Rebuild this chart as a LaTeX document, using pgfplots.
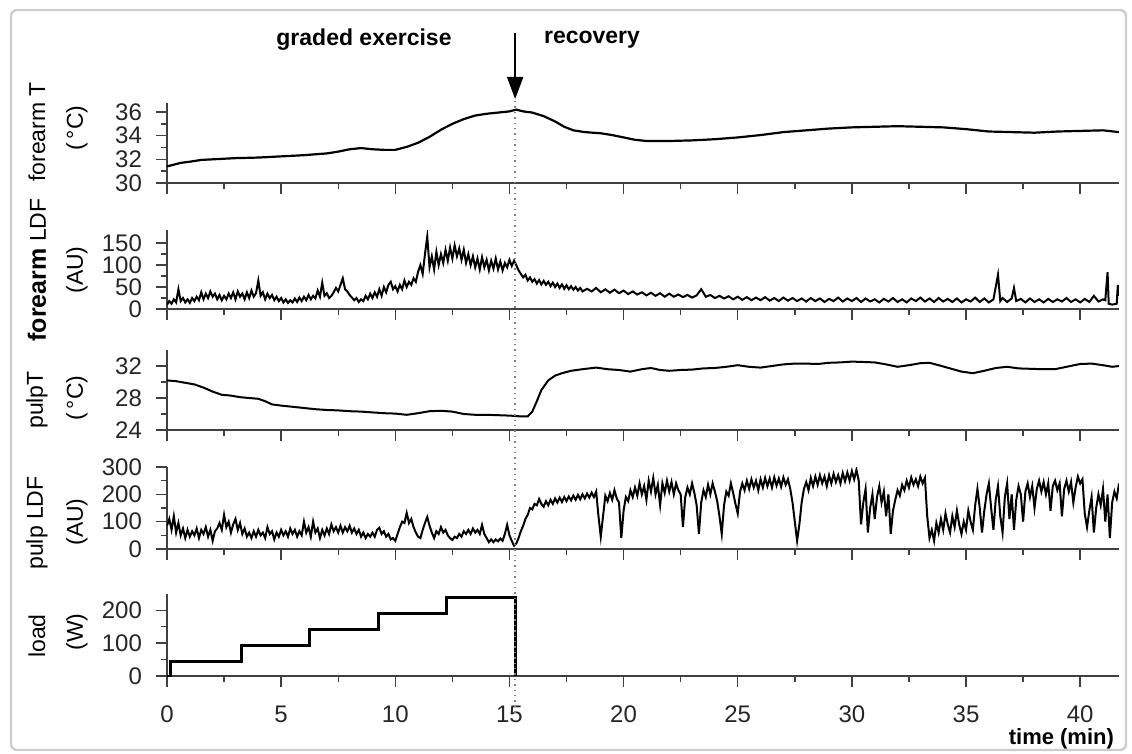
\documentclass[border=0pt]{standalone}
\usepackage{fontspec}
\setmainfont{Liberation Sans}
\usepackage{pgfplots}
\pgfplotsset{compat=1.18}
\usetikzlibrary{arrows.meta}

\pgfplotsset{
  panel/.style={
    scale only axis, width=476pt, anchor=south west,
    xmin=0, xmax=41.7,
    axis x line=bottom, axis y line=left,
    axis line style={-, line width=0.8pt, black!75},
    tick align=outside,
    xtick={0,5,...,40}, minor x tick num=1,
    minor y tick num=1,
    major tick length=5.5pt, minor tick length=3pt,
    tick style={line width=0.7pt, black!75},
    ticklabel style={font=\fontsize{12}{14}\selectfont, text=black!85},
    xticklabel style={yshift=-6pt},
    yticklabel style={xshift=-3.5pt},
    /pgf/number format/assume math mode=true,
  },
  nox/.style={xticklabels={}},
}

\begin{document}
\begin{tikzpicture}[x=0.5pt, y=-0.5pt]
\path[use as bounding box] (0,0) rectangle (1132,754);
\draw[gray!40, line width=1.2pt, rounded corners=3pt] (11,10) rectangle (1126,750);

% forearm T
\begin{axis}[panel, nox, at={(83.5pt,-91.5pt)}, height=40pt,
  ymin=30, ymax=36.76, ytick={30,32,34,36}]
\addplot[black, line width=1.1pt] coordinates {
(0,31.4) (0.3,31.55) (0.6,31.7) (1.0,31.8) (1.5,31.95) (2,32.0) (3,32.1) (4,32.15)
(5,32.25) (6,32.35) (7,32.5) (7.5,32.65) (8,32.85) (8.5,32.95) (9,32.85) (9.5,32.8)
(10,32.8) (10.5,33.05) (11,33.4) (11.5,33.9) (12,34.5) (12.5,35.0) (13,35.4) (13.5,35.7)
(14,35.85) (14.5,35.95) (15,36.05) (15.3,36.2) (15.6,36.05) (16,35.95) (16.5,35.65)
(17,35.2) (17.4,34.75) (17.8,34.45) (18.3,34.3) (19,34.2) (19.5,34.05) (20,33.85) (20.5,33.65)
(21,33.55) (22,33.55) (23,33.6) (24,33.7) (25,33.85) (26,34.05) (27,34.3) (28,34.45)
(29,34.6) (30,34.7) (31,34.75) (32,34.8) (33,34.75) (34,34.7) (35,34.55) (36,34.35)
(37,34.3) (38,34.25) (39,34.35) (40,34.4) (41,34.45) (41.7,34.3)
};
\end{axis}

% forearm LDF
\begin{axis}[panel, nox, at={(83.5pt,-154.5pt)}, height=39.5pt,
  ymin=0, ymax=180, ytick={0,50,100,150}]
\addplot[black, line width=1pt] coordinates {
(0.0,10) (0.1,18) (0.2,12) (0.3,22) (0.4,15) (0.5,45) (0.6,18) (0.7,25) (0.8,15) (0.9,22)
(1.0,14) (1.1,25) (1.2,18) (1.3,28) (1.4,20) (1.5,38) (1.6,22) (1.7,35) (1.8,25) (1.9,40)
(2.0,28) (2.1,35) (2.2,22) (2.3,32) (2.4,20) (2.5,30) (2.6,22) (2.7,35) (2.8,25) (2.9,38)
(3.0,22) (3.1,40) (3.2,28) (3.3,35) (3.4,22) (3.5,38) (3.6,25) (3.7,42) (3.8,28) (3.9,36)
(4.0,65) (4.1,30) (4.2,38) (4.3,22) (4.4,35) (4.5,25) (4.6,32) (4.7,20) (4.8,28) (4.9,18)
(5.0,25) (5.1,15) (5.2,22) (5.3,14) (5.4,20) (5.5,15) (5.6,24) (5.7,16) (5.8,26) (5.9,18)
(6.0,28) (6.1,20) (6.2,32) (6.3,22) (6.4,30) (6.5,24) (6.6,42) (6.7,28) (6.8,60) (6.9,30)
(7.0,36) (7.1,25) (7.2,30) (7.3,38) (7.4,48) (7.5,40) (7.6,55) (7.7,70) (7.8,45) (7.9,40)
(8.0,32) (8.1,26) (8.2,20) (8.3,25) (8.4,16) (8.5,22) (8.6,18) (8.7,30) (8.8,22) (8.9,35)
(9.0,25) (9.1,38) (9.2,28) (9.3,45) (9.4,30) (9.5,50) (9.6,38) (9.7,55) (9.8,62) (9.9,45)
(10.0,52) (10.1,40) (10.2,55) (10.3,45) (10.4,65) (10.5,50) (10.6,62) (10.7,55) (10.8,70) (10.9,62)
(11.0,85) (11.1,100) (11.2,80) (11.3,125) (11.4,165) (11.5,95) (11.6,120) (11.7,90) (11.8,130) (11.9,100)
(12.0,125) (12.1,105) (12.2,135) (12.3,110) (12.4,140) (12.5,115) (12.6,145) (12.7,120) (12.8,138) (12.9,112)
(13.0,135) (13.1,105) (13.2,125) (13.3,100) (13.4,120) (13.5,95) (13.6,115) (13.7,90) (13.8,118) (13.9,95)
(14.0,112) (14.1,88) (14.2,110) (14.3,92) (14.4,115) (14.5,90) (14.6,108) (14.7,88) (14.8,105) (14.9,95)
(15.0,112) (15.1,98) (15.2,110) (15.3,100) (15.4,88) (15.5,80) (15.6,72) (15.7,78) (15.8,65) (15.9,72)
(16.0,62) (16.1,68) (16.2,58) (16.3,66) (16.4,56) (16.5,64) (16.6,55) (16.7,62) (16.8,52) (16.9,60)
(17.0,50) (17.1,58) (17.2,48) (17.3,56) (17.4,46) (17.5,54) (17.6,45) (17.7,52) (17.8,44) (17.9,50)
(18.0,42) (18.1,48) (18.2,40) (18.4,46) (18.6,40) (18.8,48) (19.0,38) (19.2,45) (19.4,37) (19.6,44)
(19.8,36) (20.0,42) (20.2,34) (20.4,40) (20.6,33) (20.8,38) (21.0,31) (21.2,37) (21.4,30) (21.6,36)
(21.8,28) (22.0,35) (22.2,28) (22.4,33) (22.6,27) (22.8,32) (23.0,26) (23.2,31) (23.4,45) (23.6,28)
(23.8,32) (24.0,25) (24.2,30) (24.4,24) (24.6,29) (24.8,22) (25.0,28) (25.2,21) (25.4,27) (25.6,20)
(25.8,26) (26.0,20) (26.2,27) (26.4,19) (26.6,25) (26.8,18) (27.0,26) (27.2,19) (27.4,25) (27.6,18)
(27.8,24) (28.0,17) (28.2,25) (28.4,18) (28.6,24) (28.8,16) (29.0,23) (29.2,18) (29.4,26) (29.6,17)
(29.8,24) (30.0,18) (30.2,25) (30.4,16) (30.6,24) (30.8,17) (31.0,22) (31.2,15) (31.4,23) (31.6,17)
(31.8,25) (32.0,16) (32.2,22) (32.4,15) (32.6,24) (32.8,18) (33.0,26) (33.2,17) (33.4,24) (33.6,16)
(33.8,25) (34.0,17) (34.2,23) (34.4,16) (34.6,24) (34.8,15) (35.0,22) (35.2,17) (35.4,26) (35.6,16)
(35.8,24) (36.0,15) (36.2,22) (36.4,78) (36.5,18) (36.6,25) (36.8,16) (37.0,24) (37.1,48) (37.2,18)
(37.4,23) (37.6,15) (37.8,24) (38.0,16) (38.2,22) (38.4,15) (38.6,23) (38.8,16) (39.0,22) (39.2,17)
(39.4,25) (39.6,16) (39.8,22) (40.0,15) (40.2,23) (40.4,16) (40.6,30) (40.8,17) (41.0,22) (41.1,20)
(41.2,84) (41.25,12) (41.4,10) (41.6,12) (41.65,55) (41.7,30)
};
\end{axis}

% pulp T
\begin{axis}[panel, nox, at={(83.5pt,-215pt)}, height=40pt,
  ymin=24, ymax=34, ytick={24,28,32}]
\addplot[black, line width=1pt] coordinates {
(0,30.2) (0.4,30.1) (0.8,29.9) (1.2,29.7) (1.6,29.3) (2.0,28.8) (2.4,28.4) (2.8,28.3)
(3.2,28.1) (3.6,28.0) (4.0,27.9) (4.3,27.6) (4.6,27.2) (5.0,27.05) (5.5,26.9) (6.0,26.75)
(6.5,26.6) (7.0,26.5) (7.5,26.45) (8.0,26.35) (8.5,26.3) (9.0,26.2) (9.5,26.1) (10.0,26.05)
(10.5,25.9) (11.0,26.1) (11.5,26.35) (12.0,26.4) (12.5,26.3) (13.0,26.0) (13.5,25.9) (14.0,25.9)
(14.5,25.85) (15.0,25.8) (15.5,25.7) (15.8,25.7) (16.0,26.3) (16.2,27.6) (16.4,29.0) (16.7,30.2)
(17.0,30.8) (17.3,31.1) (17.7,31.4) (18.2,31.6) (18.8,31.8) (19.3,31.6) (19.8,31.5) (20.3,31.3)
(20.8,31.6) (21.2,31.75) (21.6,31.5) (22.0,31.4) (22.5,31.5) (23.0,31.55) (23.5,31.7) (24.0,31.75)
(24.5,31.9) (25.0,32.1) (25.5,31.9) (26.0,31.8) (26.5,32.0) (27.0,32.2) (27.5,32.3) (28.0,32.3)
(28.5,32.25) (29.0,32.4) (29.5,32.45) (30.0,32.55) (30.5,32.5) (31.0,32.45) (31.5,32.2) (32.0,31.9)
(32.5,32.1) (33.0,32.35) (33.4,32.4) (33.8,32.1) (34.3,31.7) (34.8,31.3) (35.3,31.1) (35.8,31.4)
(36.3,31.75) (36.8,31.9) (37.3,31.7) (37.8,31.65) (38.3,31.6) (38.9,31.6) (39.4,31.9) (40.0,32.25)
(40.5,32.3) (41.0,32.1) (41.4,31.9) (41.7,32.0)
};
\end{axis}

% pulp LDF
\begin{axis}[panel, nox, at={(83.5pt,-274.5pt)}, height=41pt,
  ymin=0, ymax=300, ytick={0,100,200,300}]
\addplot[black, line width=1pt] coordinates {
(0.0,85) (0.1,110) (0.2,70) (0.3,120) (0.4,60) (0.5,95) (0.6,50) (0.7,75) (0.8,40) (0.9,70)
(1.0,45) (1.1,65) (1.2,50) (1.3,75) (1.4,40) (1.5,70) (1.6,55) (1.7,80) (1.8,45) (1.9,70)
(2.0,30) (2.1,65) (2.2,75) (2.3,95) (2.4,70) (2.5,125) (2.6,80) (2.7,100) (2.8,60) (2.9,90)
(3.0,110) (3.1,70) (3.2,95) (3.3,55) (3.4,75) (3.5,45) (3.6,60) (3.7,40) (3.8,65) (3.9,45)
(4.0,70) (4.1,50) (4.2,60) (4.3,40) (4.4,80) (4.5,55) (4.6,65) (4.7,35) (4.8,60) (4.9,45)
(5.0,70) (5.1,50) (5.2,65) (5.3,45) (5.4,75) (5.5,55) (5.6,70) (5.7,45) (5.8,65) (5.9,50)
(6.0,100) (6.1,60) (6.2,80) (6.3,45) (6.4,100) (6.5,60) (6.6,75) (6.7,40) (6.8,70) (6.9,50)
(7.0,75) (7.1,55) (7.2,90) (7.3,65) (7.4,80) (7.5,60) (7.6,85) (7.7,60) (7.8,80) (7.9,65)
(8.0,85) (8.1,60) (8.2,75) (8.3,55) (8.4,70) (8.5,45) (8.6,60) (8.7,40) (8.8,55) (8.9,45)
(9.0,60) (9.1,45) (9.2,70) (9.3,78) (9.4,55) (9.5,65) (9.6,45) (9.7,55) (9.8,35) (9.9,40)
(10.0,30) (10.1,55) (10.2,80) (10.3,100) (10.4,95) (10.5,132) (10.6,95) (10.7,110) (10.8,80) (10.9,60)
(11.0,45) (11.1,40) (11.2,70) (11.3,95) (11.4,117) (11.5,85) (11.6,60) (11.7,40) (11.8,65) (11.9,55)
(12.0,80) (12.1,60) (12.2,70) (12.3,50) (12.4,40) (12.5,33) (12.6,45) (12.7,40) (12.8,55) (12.9,45)
(13.0,65) (13.1,55) (13.2,70) (13.3,55) (13.4,75) (13.5,60) (13.6,70) (13.7,55) (13.8,88) (13.9,55)
(14.0,40) (14.1,25) (14.2,35) (14.3,25) (14.4,35) (14.5,28) (14.6,38) (14.7,30) (14.8,55) (14.9,88)
(15.0,50) (15.1,30) (15.2,12) (15.3,20) (15.4,40) (15.5,65) (15.6,85) (15.7,110) (15.8,125) (15.9,150)
(16.0,145) (16.1,165) (16.2,160) (16.3,183) (16.4,165) (16.5,155) (16.6,175) (16.7,160) (16.8,180) (16.9,165)
(17.0,185) (17.1,170) (17.2,188) (17.3,172) (17.4,190) (17.5,175) (17.6,192) (17.7,178) (17.8,195) (17.9,180)
(18.0,198) (18.1,182) (18.2,200) (18.3,185) (18.4,203) (18.5,188) (18.6,206) (18.7,190) (18.8,210) (18.9,120)
(19.0,45) (19.1,120) (19.2,195) (19.3,175) (19.4,205) (19.5,180) (19.6,215) (19.7,185) (19.8,170) (19.9,40)
(20.0,140) (20.1,190) (20.2,175) (20.3,215) (20.4,190) (20.5,225) (20.6,195) (20.7,240) (20.8,200) (20.9,230)
(21.0,180) (21.1,250) (21.2,210) (21.3,260) (21.4,200) (21.5,235) (21.6,160) (21.7,240) (21.8,205) (21.9,250)
(22.0,210) (22.1,245) (22.2,200) (22.3,240) (22.4,215) (22.5,200) (22.6,80) (22.7,190) (22.8,225) (22.9,200)
(23.0,240) (23.1,205) (23.2,160) (23.3,55) (23.4,170) (23.5,215) (23.6,190) (23.7,235) (23.8,200) (23.9,240)
(24.0,210) (24.1,175) (24.2,120) (24.3,55) (24.4,160) (24.5,210) (24.6,195) (24.7,240) (24.8,205) (24.9,165)
(25.0,130) (25.1,210) (25.2,240) (25.3,215) (25.4,250) (25.5,220) (25.6,255) (25.7,225) (25.8,250) (25.9,215)
(26.0,255) (26.1,225) (26.2,260) (26.3,230) (26.4,258) (26.5,225) (26.6,262) (26.7,232) (26.8,258) (26.9,228)
(27.0,262) (27.1,235) (27.2,255) (27.3,220) (27.4,170) (27.5,100) (27.6,30) (27.7,90) (27.8,170) (27.9,220)
(28.0,245) (28.1,215) (28.2,260) (28.3,230) (28.4,265) (28.5,235) (28.6,270) (28.7,240) (28.8,265) (28.9,230)
(29.0,270) (29.1,240) (29.2,275) (29.3,245) (29.4,270) (29.5,240) (29.6,278) (29.7,248) (29.8,280) (29.9,250)
(30.0,285) (30.1,255) (30.2,290) (30.3,250) (30.4,90) (30.5,170) (30.6,220) (30.7,60) (30.8,150) (30.9,200)
(31.0,110) (31.1,190) (31.2,230) (31.3,170) (31.4,210) (31.5,120) (31.6,200) (31.7,55) (31.8,140) (31.9,180)
(32.0,215) (32.1,195) (32.2,235) (32.3,215) (32.4,250) (32.5,225) (32.6,262) (32.7,235) (32.8,255) (32.9,230)
(33.0,265) (33.1,240) (33.2,260) (33.3,120) (33.4,40) (33.5,70) (33.6,30) (33.7,95) (33.8,60) (33.9,110)
(34.0,70) (34.1,130) (34.2,90) (34.3,60) (34.4,120) (34.5,80) (34.6,140) (34.7,90) (34.8,55) (34.9,100)
(35.0,70) (35.1,140) (35.2,100) (35.3,70) (35.4,160) (35.5,220) (35.6,150) (35.7,60) (35.8,140) (35.9,200)
(36.0,240) (36.1,150) (36.2,70) (36.3,180) (36.4,230) (36.5,120) (36.6,60) (36.7,190) (36.8,240) (36.9,110)
(37.0,200) (37.1,70) (37.2,180) (37.3,230) (37.4,200) (37.5,100) (37.6,210) (37.7,240) (37.8,190) (37.9,230)
(38.0,150) (38.1,220) (38.2,250) (38.3,210) (38.4,245) (38.5,200) (38.6,240) (38.7,140) (38.8,230) (38.9,250)
(39.0,215) (39.1,240) (39.2,120) (39.3,220) (39.4,250) (39.5,210) (39.6,245) (39.7,170) (39.8,225) (39.9,265)
(40.0,240) (40.1,255) (40.2,130) (40.3,80) (40.4,140) (40.5,190) (40.6,60) (40.7,150) (40.8,200) (40.9,160)
(41.0,220) (41.1,100) (41.2,200) (41.3,40) (41.4,170) (41.5,210) (41.6,185) (41.7,240)
};
\end{axis}

% load
\begin{axis}[panel, at={(83.5pt,-338pt)}, height=41pt,
  ymin=0, ymax=250, ytick={0,100,200}]
\addplot[black, line width=1.5pt] coordinates {
(0.0,0) (0.15,0) (0.15,45) (3.25,45) (3.25,92) (6.25,92) (6.25,141) (9.25,141)
(9.25,190) (12.25,190) (12.25,238) (15.25,238) (15.25,0)
};
\coordinate (dl) at (axis cs:15.25,0);
\end{axis}

\coordinate (t1) at (0,33);
\coordinate (t2) at (0,99);
\coordinate (t3) at (0,101);
\coordinate (t4) at (0,713);
\draw[gray, dotted, line width=0.7pt] (dl |- t3) -- (dl |- t4);
\draw[black, line width=1pt, -{Triangle[length=11pt, width=8pt]}] (dl |- t1) -- (dl |- t2);

\node[font=\fontsize{11.5}{13}\selectfont\bfseries] at (364,40) {graded exercise};
\node[font=\fontsize{11.5}{13}\selectfont\bfseries, anchor=west] at (537,40) {recovery};
\node[font=\fontsize{11}{13}\selectfont\bfseries, anchor=east] at (1121,739) {time (min)};

\begin{scope}[every node/.style={rotate=90, font=\fontsize{11.5}{13}\selectfont}]
\node at (37,132) {forearm T};
\node at (77,128) {(\,°C)};
\node at (37,270) {\textbf{\fontsize{12.5}{14}\selectfont forearm} LDF};
\node at (77,270) {(AU)};
\node at (37,400) {pulpT};
\node at (77,398) {(\,°C)};
\node at (37,523) {pulp LDF};
\node at (77,522) {(AU)};
\node at (37,636) {load};
\node at (77,632) {(W)};
\end{scope}
\end{tikzpicture}
\end{document}
